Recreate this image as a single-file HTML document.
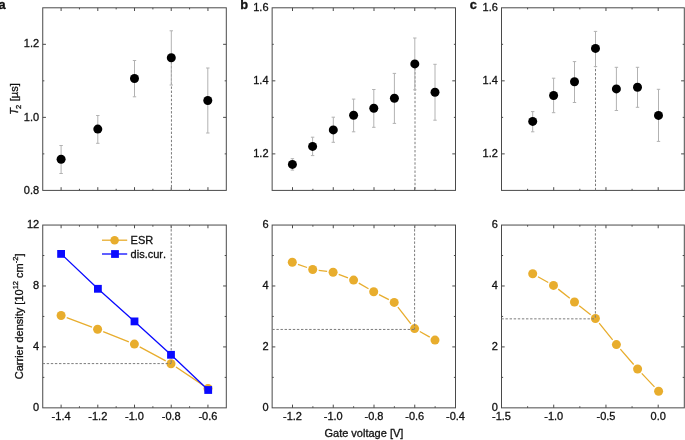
<!DOCTYPE html>
<html><head><meta charset="utf-8"><style>
html,body{margin:0;padding:0;background:#fff;}
body{width:685px;height:440px;overflow:hidden;}
svg{display:block;will-change:transform;}
svg text{font-family:"Liberation Sans",sans-serif;fill:#111111;font-kerning:none;white-space:pre;}
</style></head><body>
<svg width="685" height="440" viewBox="0 0 685 440" font-size="11">
<rect width="685" height="440" fill="#fff"/>
<path d="M61.10 190.40v-3.2M61.10 7.80v3.2M97.81 190.40v-3.2M97.81 7.80v3.2M134.52 190.40v-3.2M134.52 7.80v3.2M171.23 190.40v-3.2M171.23 7.80v3.2M207.94 190.40v-3.2M207.94 7.80v3.2M79.45 190.40v-1.6M79.45 7.80v1.6M116.16 190.40v-1.6M116.16 7.80v1.6M152.88 190.40v-1.6M152.88 7.80v1.6M189.59 190.40v-1.6M189.59 7.80v1.6M42.74 117.36h3.2M226.30 117.36h-3.2M42.74 44.32h3.2M226.30 44.32h-3.2M42.74 153.88h1.6M226.30 153.88h-1.6M42.74 80.84h1.6M226.30 80.84h-1.6" stroke="#4a4a4a" stroke-width="1" fill="none"/>
<rect x="42.74" y="7.80" width="183.56" height="182.60" fill="none" stroke="#4a4a4a" stroke-width="1.0"/>
<path d="M292.51 190.40v-3.2M292.51 7.80v3.2M333.26 190.40v-3.2M333.26 7.80v3.2M374.01 190.40v-3.2M374.01 7.80v3.2M414.75 190.40v-3.2M414.75 7.80v3.2M312.89 190.40v-1.6M312.89 7.80v1.6M353.63 190.40v-1.6M353.63 7.80v1.6M394.38 190.40v-1.6M394.38 7.80v1.6M435.13 190.40v-1.6M435.13 7.80v1.6M272.14 153.88h3.2M455.50 153.88h-3.2M272.14 80.84h3.2M455.50 80.84h-3.2M272.14 117.36h1.6M455.50 117.36h-1.6M272.14 44.32h1.6M455.50 44.32h-1.6" stroke="#4a4a4a" stroke-width="1" fill="none"/>
<rect x="272.14" y="7.80" width="183.36" height="182.60" fill="none" stroke="#4a4a4a" stroke-width="1.0"/>
<path d="M553.73 190.40v-3.2M553.73 7.80v3.2M605.96 190.40v-3.2M605.96 7.80v3.2M658.19 190.40v-3.2M658.19 7.80v3.2M527.61 190.40v-1.6M527.61 7.80v1.6M579.84 190.40v-1.6M579.84 7.80v1.6M632.07 190.40v-1.6M632.07 7.80v1.6M501.50 153.88h3.2M684.30 153.88h-3.2M501.50 80.84h3.2M684.30 80.84h-3.2M501.50 117.36h1.6M684.30 117.36h-1.6M501.50 44.32h1.6M684.30 44.32h-1.6" stroke="#4a4a4a" stroke-width="1" fill="none"/>
<rect x="501.50" y="7.80" width="182.80" height="182.60" fill="none" stroke="#4a4a4a" stroke-width="1.0"/>
<path d="M61.10 407.85v-3.2M61.10 225.05v3.2M97.81 407.85v-3.2M97.81 225.05v3.2M134.52 407.85v-3.2M134.52 225.05v3.2M171.23 407.85v-3.2M171.23 225.05v3.2M207.94 407.85v-3.2M207.94 225.05v3.2M79.45 407.85v-1.6M79.45 225.05v1.6M116.16 407.85v-1.6M116.16 225.05v1.6M152.88 407.85v-1.6M152.88 225.05v1.6M189.59 407.85v-1.6M189.59 225.05v1.6M42.74 346.92h3.2M226.30 346.92h-3.2M42.74 285.98h3.2M226.30 285.98h-3.2M42.74 377.38h1.6M226.30 377.38h-1.6M42.74 316.45h1.6M226.30 316.45h-1.6M42.74 255.52h1.6M226.30 255.52h-1.6" stroke="#4a4a4a" stroke-width="1" fill="none"/>
<rect x="42.74" y="225.05" width="183.56" height="182.80" fill="none" stroke="#4a4a4a" stroke-width="1.0"/>
<path d="M292.51 407.85v-3.2M292.51 225.05v3.2M333.26 407.85v-3.2M333.26 225.05v3.2M374.01 407.85v-3.2M374.01 225.05v3.2M414.75 407.85v-3.2M414.75 225.05v3.2M312.89 407.85v-1.6M312.89 225.05v1.6M353.63 407.85v-1.6M353.63 225.05v1.6M394.38 407.85v-1.6M394.38 225.05v1.6M435.13 407.85v-1.6M435.13 225.05v1.6M272.14 346.92h3.2M455.50 346.92h-3.2M272.14 285.98h3.2M455.50 285.98h-3.2M272.14 377.38h1.6M455.50 377.38h-1.6M272.14 316.45h1.6M455.50 316.45h-1.6M272.14 255.52h1.6M455.50 255.52h-1.6" stroke="#4a4a4a" stroke-width="1" fill="none"/>
<rect x="272.14" y="225.05" width="183.36" height="182.80" fill="none" stroke="#4a4a4a" stroke-width="1.0"/>
<path d="M553.73 407.85v-3.2M553.73 225.05v3.2M605.96 407.85v-3.2M605.96 225.05v3.2M658.19 407.85v-3.2M658.19 225.05v3.2M527.61 407.85v-1.6M527.61 225.05v1.6M579.84 407.85v-1.6M579.84 225.05v1.6M632.07 407.85v-1.6M632.07 225.05v1.6M501.50 346.92h3.2M684.30 346.92h-3.2M501.50 285.98h3.2M684.30 285.98h-3.2M501.50 377.38h1.6M684.30 377.38h-1.6M501.50 316.45h1.6M684.30 316.45h-1.6M501.50 255.52h1.6M684.30 255.52h-1.6" stroke="#4a4a4a" stroke-width="1" fill="none"/>
<rect x="501.50" y="225.05" width="182.80" height="182.80" fill="none" stroke="#4a4a4a" stroke-width="1.0"/>
<path d="M171.45 57.8V190.4" stroke="#7c7c7c" stroke-width="1" stroke-dasharray="2.4 1.7" fill="none"/>
<path d="M415.0 63.9V190.4" stroke="#7c7c7c" stroke-width="1" stroke-dasharray="2.4 1.7" fill="none"/>
<path d="M595.5 48.4V190.4" stroke="#7c7c7c" stroke-width="1" stroke-dasharray="2.4 1.7" fill="none"/>
<path d="M61.10 145.50V173.50M59.40 145.50h3.4M59.40 173.50h3.4" stroke="#b2b2b2" stroke-width="1" fill="none"/>
<path d="M97.80 115.50V143.30M96.10 115.50h3.4M96.10 143.30h3.4" stroke="#b2b2b2" stroke-width="1" fill="none"/>
<path d="M134.50 60.50V96.80M132.80 60.50h3.4M132.80 96.80h3.4" stroke="#b2b2b2" stroke-width="1" fill="none"/>
<path d="M171.30 30.80V85.00M169.60 30.80h3.4M169.60 85.00h3.4" stroke="#b2b2b2" stroke-width="1" fill="none"/>
<path d="M207.80 68.00V133.00M206.10 68.00h3.4M206.10 133.00h3.4" stroke="#b2b2b2" stroke-width="1" fill="none"/>
<circle cx="61.10" cy="159.30" r="4.5" fill="#000"/>
<circle cx="97.80" cy="129.10" r="4.5" fill="#000"/>
<circle cx="134.50" cy="78.50" r="4.5" fill="#000"/>
<circle cx="171.30" cy="57.80" r="4.5" fill="#000"/>
<circle cx="207.80" cy="100.50" r="4.5" fill="#000"/>
<path d="M292.40 158.70V170.10M290.70 158.70h3.4M290.70 170.10h3.4" stroke="#b2b2b2" stroke-width="1" fill="none"/>
<path d="M312.60 137.20V155.60M310.90 137.20h3.4M310.90 155.60h3.4" stroke="#b2b2b2" stroke-width="1" fill="none"/>
<path d="M333.30 117.20V142.30M331.60 117.20h3.4M331.60 142.30h3.4" stroke="#b2b2b2" stroke-width="1" fill="none"/>
<path d="M353.60 99.10V131.80M351.90 99.10h3.4M351.90 131.80h3.4" stroke="#b2b2b2" stroke-width="1" fill="none"/>
<path d="M373.80 89.50V127.30M372.10 89.50h3.4M372.10 127.30h3.4" stroke="#b2b2b2" stroke-width="1" fill="none"/>
<path d="M394.40 73.40V123.40M392.70 73.40h3.4M392.70 123.40h3.4" stroke="#b2b2b2" stroke-width="1" fill="none"/>
<path d="M414.80 38.00V89.80M413.10 38.00h3.4M413.10 89.80h3.4" stroke="#b2b2b2" stroke-width="1" fill="none"/>
<path d="M435.00 64.30V120.20M433.30 64.30h3.4M433.30 120.20h3.4" stroke="#b2b2b2" stroke-width="1" fill="none"/>
<circle cx="292.40" cy="164.40" r="4.5" fill="#000"/>
<circle cx="312.60" cy="146.40" r="4.5" fill="#000"/>
<circle cx="333.30" cy="129.90" r="4.5" fill="#000"/>
<circle cx="353.60" cy="115.20" r="4.5" fill="#000"/>
<circle cx="373.80" cy="108.20" r="4.5" fill="#000"/>
<circle cx="394.40" cy="98.30" r="4.5" fill="#000"/>
<circle cx="414.80" cy="63.90" r="4.5" fill="#000"/>
<circle cx="435.00" cy="92.30" r="4.5" fill="#000"/>
<path d="M532.70 111.60V131.80M531.00 111.60h3.4M531.00 131.80h3.4" stroke="#b2b2b2" stroke-width="1" fill="none"/>
<path d="M553.60 78.20V112.70M551.90 78.20h3.4M551.90 112.70h3.4" stroke="#b2b2b2" stroke-width="1" fill="none"/>
<path d="M574.50 61.60V102.50M572.80 61.60h3.4M572.80 102.50h3.4" stroke="#b2b2b2" stroke-width="1" fill="none"/>
<path d="M595.50 31.40V66.60M593.80 31.40h3.4M593.80 66.60h3.4" stroke="#b2b2b2" stroke-width="1" fill="none"/>
<path d="M616.40 67.30V110.50M614.70 67.30h3.4M614.70 110.50h3.4" stroke="#b2b2b2" stroke-width="1" fill="none"/>
<path d="M637.50 67.30V107.30M635.80 67.30h3.4M635.80 107.30h3.4" stroke="#b2b2b2" stroke-width="1" fill="none"/>
<path d="M658.50 89.30V141.40M656.80 89.30h3.4M656.80 141.40h3.4" stroke="#b2b2b2" stroke-width="1" fill="none"/>
<circle cx="532.70" cy="121.40" r="4.5" fill="#000"/>
<circle cx="553.60" cy="95.50" r="4.5" fill="#000"/>
<circle cx="574.50" cy="81.80" r="4.5" fill="#000"/>
<circle cx="595.50" cy="48.40" r="4.5" fill="#000"/>
<circle cx="616.40" cy="88.90" r="4.5" fill="#000"/>
<circle cx="637.50" cy="87.30" r="4.5" fill="#000"/>
<circle cx="658.50" cy="115.40" r="4.5" fill="#000"/>
<path d="M66.71 317.62L91.99 327.18M103.17 331.54L128.83 341.86M139.69 346.93L165.71 360.87M175.98 367.04L203.02 385.16" stroke="#e8ad2d" stroke-width="1.3" fill="none"/>
<circle cx="61.10" cy="315.50" r="4.5" fill="#e8ad2d"/>
<circle cx="97.60" cy="329.30" r="4.5" fill="#e8ad2d"/>
<circle cx="134.40" cy="344.10" r="4.5" fill="#e8ad2d"/>
<circle cx="171.00" cy="363.70" r="4.5" fill="#e8ad2d"/>
<circle cx="208.00" cy="388.50" r="4.5" fill="#e8ad2d"/>
<path d="M297.96 264.30L307.04 267.50M318.65 270.29L327.15 271.41M338.70 274.36L348.00 277.94M358.79 283.12L368.51 288.78M379.03 294.56L388.87 299.64M397.89 307.13L410.91 323.87M419.83 331.55L429.77 337.15" stroke="#e8ad2d" stroke-width="1.3" fill="none"/>
<circle cx="292.30" cy="262.30" r="4.5" fill="#e8ad2d"/>
<circle cx="312.70" cy="269.50" r="4.5" fill="#e8ad2d"/>
<circle cx="333.10" cy="272.20" r="4.5" fill="#e8ad2d"/>
<circle cx="353.60" cy="280.10" r="4.5" fill="#e8ad2d"/>
<circle cx="373.70" cy="291.80" r="4.5" fill="#e8ad2d"/>
<circle cx="394.20" cy="302.40" r="4.5" fill="#e8ad2d"/>
<circle cx="414.60" cy="328.60" r="4.5" fill="#e8ad2d"/>
<circle cx="435.00" cy="340.10" r="4.5" fill="#e8ad2d"/>
<path d="M537.94 276.72L548.26 282.48M558.21 289.12L569.79 298.28M579.21 305.72L590.69 314.78M599.16 323.17L612.64 339.93M620.34 349.13L633.66 364.47M641.72 373.36L654.48 386.84" stroke="#e8ad2d" stroke-width="1.3" fill="none"/>
<circle cx="532.70" cy="273.80" r="4.5" fill="#e8ad2d"/>
<circle cx="553.50" cy="285.40" r="4.5" fill="#e8ad2d"/>
<circle cx="574.50" cy="302.00" r="4.5" fill="#e8ad2d"/>
<circle cx="595.40" cy="318.50" r="4.5" fill="#e8ad2d"/>
<circle cx="616.40" cy="344.60" r="4.5" fill="#e8ad2d"/>
<circle cx="637.60" cy="369.00" r="4.5" fill="#e8ad2d"/>
<circle cx="658.60" cy="391.20" r="4.5" fill="#e8ad2d"/>
<path d="M42.6 363.6H171.2M171.2 225.05V363.6" stroke="#7c7c7c" stroke-width="1" stroke-dasharray="2.4 1.7" fill="none"/>
<path d="M272.3 329.45H414.6M414.6 225.05V329.45" stroke="#7c7c7c" stroke-width="1" stroke-dasharray="2.4 1.7" fill="none"/>
<path d="M501.4 318.85H595.4M595.4 225.05V318.85" stroke="#7c7c7c" stroke-width="1" stroke-dasharray="2.4 1.7" fill="none"/>
<path d="M61.10 253.90L97.90 288.80M97.90 288.80L134.50 321.40M134.50 321.40L171.00 354.80M171.00 354.80L208.20 390.00" stroke="#0a0aff" stroke-width="1.3" fill="none"/>
<rect x="57.20" y="250.00" width="7.8" height="7.8" fill="#0a0aff"/>
<rect x="94.00" y="284.90" width="7.8" height="7.8" fill="#0a0aff"/>
<rect x="130.60" y="317.50" width="7.8" height="7.8" fill="#0a0aff"/>
<rect x="167.10" y="350.90" width="7.8" height="7.8" fill="#0a0aff"/>
<rect x="204.30" y="386.10" width="7.8" height="7.8" fill="#0a0aff"/>
<path d="M102 240.2H127.2" stroke="#e8ad2d" stroke-width="1.3"/>
<circle cx="114.6" cy="240.2" r="4.3" fill="#e8ad2d"/>
<path d="M102 254H127.2" stroke="#0a0aff" stroke-width="1.3"/>
<rect x="111.1" y="250.1" width="7.8" height="7.8" fill="#0a0aff"/>
<text x="130.60" y="244.00" stroke="#111111" stroke-width="0.3">ESR</text>
<text x="130.60" y="257.80" stroke="#111111" stroke-width="0.3">dis.cur.</text>
<text x="39.14" y="47.47" text-anchor="end" stroke="#111111" stroke-width="0.3">1.2</text>
<text x="39.14" y="120.51" text-anchor="end" stroke="#111111" stroke-width="0.3">1.0</text>
<text x="39.14" y="193.55" text-anchor="end" stroke="#111111" stroke-width="0.3">0.8</text>
<text x="268.54" y="10.95" text-anchor="end" stroke="#111111" stroke-width="0.3">1.6</text>
<text x="268.54" y="83.99" text-anchor="end" stroke="#111111" stroke-width="0.3">1.4</text>
<text x="268.54" y="157.03" text-anchor="end" stroke="#111111" stroke-width="0.3">1.2</text>
<text x="497.90" y="10.95" text-anchor="end" stroke="#111111" stroke-width="0.3">1.6</text>
<text x="497.90" y="83.99" text-anchor="end" stroke="#111111" stroke-width="0.3">1.4</text>
<text x="497.90" y="157.03" text-anchor="end" stroke="#111111" stroke-width="0.3">1.2</text>
<text x="39.14" y="228.20" text-anchor="end" stroke="#111111" stroke-width="0.3">12</text>
<text x="39.14" y="289.13" text-anchor="end" stroke="#111111" stroke-width="0.3">8</text>
<text x="39.14" y="350.07" text-anchor="end" stroke="#111111" stroke-width="0.3">4</text>
<text x="39.14" y="411.00" text-anchor="end" stroke="#111111" stroke-width="0.3">0</text>
<text x="268.54" y="228.20" text-anchor="end" stroke="#111111" stroke-width="0.3">6</text>
<text x="268.54" y="289.13" text-anchor="end" stroke="#111111" stroke-width="0.3">4</text>
<text x="268.54" y="350.07" text-anchor="end" stroke="#111111" stroke-width="0.3">2</text>
<text x="268.54" y="411.00" text-anchor="end" stroke="#111111" stroke-width="0.3">0</text>
<text x="497.90" y="228.20" text-anchor="end" stroke="#111111" stroke-width="0.3">6</text>
<text x="497.90" y="289.13" text-anchor="end" stroke="#111111" stroke-width="0.3">4</text>
<text x="497.90" y="350.07" text-anchor="end" stroke="#111111" stroke-width="0.3">2</text>
<text x="497.90" y="411.00" text-anchor="end" stroke="#111111" stroke-width="0.3">0</text>
<text x="61.10" y="419.70" text-anchor="middle" stroke="#111111" stroke-width="0.3">-1.4</text>
<text x="97.81" y="419.70" text-anchor="middle" stroke="#111111" stroke-width="0.3">-1.2</text>
<text x="134.52" y="419.70" text-anchor="middle" stroke="#111111" stroke-width="0.3">-1.0</text>
<text x="171.23" y="419.70" text-anchor="middle" stroke="#111111" stroke-width="0.3">-0.8</text>
<text x="207.94" y="419.70" text-anchor="middle" stroke="#111111" stroke-width="0.3">-0.6</text>
<text x="292.51" y="419.70" text-anchor="middle" stroke="#111111" stroke-width="0.3">-1.2</text>
<text x="333.26" y="419.70" text-anchor="middle" stroke="#111111" stroke-width="0.3">-1.0</text>
<text x="374.01" y="419.70" text-anchor="middle" stroke="#111111" stroke-width="0.3">-0.8</text>
<text x="414.75" y="419.70" text-anchor="middle" stroke="#111111" stroke-width="0.3">-0.6</text>
<text x="455.50" y="419.70" text-anchor="middle" stroke="#111111" stroke-width="0.3">-0.4</text>
<text x="501.50" y="419.70" text-anchor="middle" stroke="#111111" stroke-width="0.3">-1.5</text>
<text x="553.73" y="419.70" text-anchor="middle" stroke="#111111" stroke-width="0.3">-1.0</text>
<text x="605.96" y="419.70" text-anchor="middle" stroke="#111111" stroke-width="0.3">-0.5</text>
<text x="658.19" y="419.70" text-anchor="middle" stroke="#111111" stroke-width="0.3">0.0</text>
<text x="363.90" y="437.30" text-anchor="middle" stroke="#111111" stroke-width="0.3">Gate voltage [V]</text>
<text transform="translate(18.10 99.05) rotate(-90)" x="-15.80" y="0" stroke="#111111" stroke-width="0.3"><tspan font-style="italic">T</tspan><tspan font-size="7.5" dy="2.5" dx="-1">2</tspan><tspan dy="-2.5" dx="0.7"> [µs]</tspan></text>
<text transform="translate(23.00 316.40) rotate(-90)" x="-62.83" y="0" stroke="#111111" stroke-width="0.3"><tspan>Carrier density [10</tspan><tspan font-size="7.5" dy="-4.9">12</tspan><tspan dy="4.9"> cm</tspan><tspan font-size="7.5" dy="-4.9">-2</tspan><tspan dy="4.9">]</tspan></text>
<text x="-1.55" y="8.90" font-size="12.8" font-weight="bold" stroke="#111111" stroke-width="0.3">a</text>
<text x="240.30" y="9.00" font-size="12.8" font-weight="bold" stroke="#111111" stroke-width="0.3">b</text>
<text x="469.85" y="9.05" font-size="12.8" font-weight="bold" stroke="#111111" stroke-width="0.3">c</text>
</svg>
</body></html>
